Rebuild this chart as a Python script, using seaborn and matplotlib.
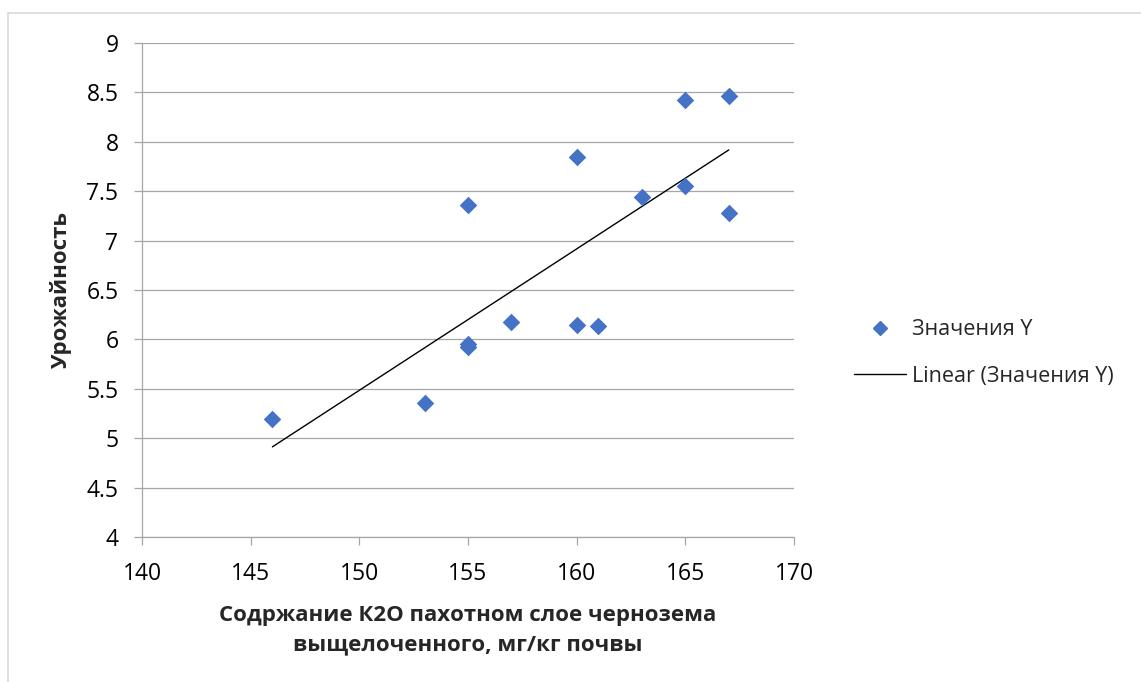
import matplotlib
matplotlib.use("Agg")
import matplotlib.pyplot as plt
import seaborn as sns
import pandas as pd
import numpy as np
from matplotlib.patches import Rectangle
from matplotlib.lines import Line2D

# Data
k2o = [146, 153, 155, 155, 155, 157, 160, 160, 161, 163, 165, 165, 167, 167]
yield_vals = [5.19, 5.36, 7.36, 5.95, 5.92, 6.18, 7.85, 6.15, 6.14, 7.44, 8.42, 7.55, 8.46, 7.28]
y_ticks = [4, 4.5, 5, 5.5, 6, 6.5, 7, 7.5, 8, 8.5, 9]
x_ticks = [140, 145, 150, 155, 160, 165, 170]
series_label = "Значения Y"
trend_label = "Linear (Значения Y)"
x_title = "Содржание К2О пахотном слое чернозема\nвыщелоченного, мг/кг почвы"
y_title = "Урожайность"

df = pd.DataFrame({"x": k2o, "y": yield_vals})

sns.set_theme(style="white")
plt.rcParams['font.family'] = ['Open Sans', 'DejaVu Sans']

fig = plt.figure(figsize=(11.41, 6.82), dpi=100)
ax = fig.add_axes([142/1141, 1-537/682, (794-142)/1141, (537-43)/682])

# outer chart border
fig.patches.append(Rectangle((8/1141, -0.01), 1.02, 1-13/682 + 0.01, transform=fig.transFigure,
                             fill=False, edgecolor="#D9D9D9", linewidth=1.2, zorder=0))

grid_c = "#A6A6A6"
for yv in y_ticks:
    ax.axhline(yv, color=grid_c, lw=0.9, zorder=0)

sns.regplot(data=df, x="x", y="y", scatter=False, ci=None, truncate=True, ax=ax,
            line_kws=dict(color="black", lw=1.0, zorder=2))
sns.scatterplot(data=df, x="x", y="y", marker="D", s=80, color="#4472C4",
                edgecolor="#4472C4", linewidth=0, ax=ax, zorder=3)

ax.set_xlim(140, 170)
ax.set_ylim(4, 9)
ax.set_xticks(x_ticks)
ax.set_yticks(y_ticks)
ax.set_xticklabels([str(v) for v in x_ticks])
ax.set_yticklabels([f"{v:g}" for v in y_ticks])
ax.tick_params(axis="both", which="major", direction="out", length=6, width=0.9,
               color=grid_c, labelsize=16.5, labelcolor="black", left=True, bottom=True)
ax.tick_params(axis="y", pad=11)
ax.tick_params(axis="x", pad=12)
for s in ["top", "right"]:
    ax.spines[s].set_visible(False)
for s in ["left", "bottom"]:
    ax.spines[s].set_color(grid_c)
    ax.spines[s].set_linewidth(0.9)

ax.set_xlabel(x_title, fontsize=16, fontweight="bold", labelpad=14, linespacing=1.5)
ax.set_ylabel(y_title, fontsize=16, fontweight="bold", labelpad=10)

handles = [Line2D([], [], marker="D", color="#4472C4", linestyle="none", markersize=7.5),
           Line2D([], [], color="black", lw=1.0)]
fig.legend(handles, [series_label, trend_label], loc="center left",
           bbox_to_anchor=(835/1141, 1-353/682), frameon=False, fontsize=15.5,
           handlelength=2.4, handletextpad=0.3, labelspacing=1.2)

fig.savefig("out.png", dpi=100)
